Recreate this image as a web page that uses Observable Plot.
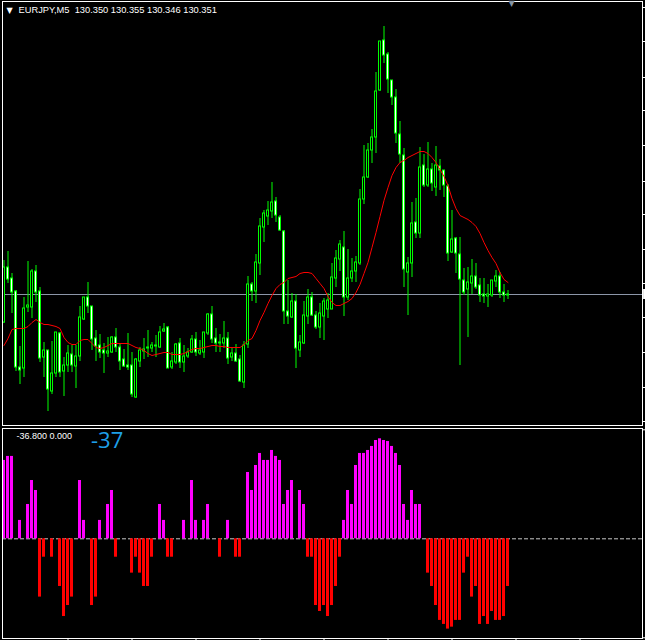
<!DOCTYPE html>
<html><head><meta charset="utf-8">
<script src="https://cdn.jsdelivr.net/npm/d3@7"></script>
<script src="https://cdn.jsdelivr.net/npm/@observablehq/plot@0.6"></script>
<style>
html,body{margin:0;padding:0;background:#000;}
#wrap{position:relative;width:645px;height:640px;background:#000;overflow:hidden;}
#wrap svg{position:absolute;left:0;}
</style></head><body><div id="wrap"></div>
<script>
const symbol = "EURJPY,M5";
const lastBar = [130.350, 130.355, 130.346, 130.351];

const open = [
130.323,130.378,130.367,130.354,130.278,130.277,130.338,130.338,130.374,130.354,
130.288,130.295,130.254,130.272,130.312,130.274,130.280,130.291,130.279,130.289,
130.326,130.348,130.339,130.307,130.300,130.295,130.292,130.293,130.308,130.298,
130.286,130.280,130.280,130.248,130.284,130.294,130.297,130.297,130.300,130.298,
130.314,130.318,130.278,130.283,130.302,130.283,130.289,130.293,130.306,130.292,
130.293,130.312,130.331,130.307,130.303,130.302,130.307,130.288,130.292,130.286,
130.263,130.301,130.361,130.354,130.382,130.418,130.429,130.434,130.444,130.428,
130.414,130.334,130.328,130.344,130.295,130.302,130.329,130.348,130.330,130.318,
130.329,130.336,130.336,130.367,130.386,130.398,130.348,130.367,130.374,130.382,
130.446,130.468,130.495,130.508,130.555,130.605,130.591,130.565,130.548,130.511,
130.490,130.373,130.382,130.423,130.412,130.480,130.460,130.476,130.458,130.479,
130.475,130.459,130.393,130.407,130.391,130.365,130.356,130.362,130.369,130.360,
130.351,130.349,130.350,130.364,130.369,130.353,130.350];
const high = [
130.385,130.394,130.372,130.355,130.299,130.348,130.384,130.376,130.380,130.358,
130.303,130.295,130.304,130.313,130.313,130.288,130.300,130.300,130.300,130.339,
130.348,130.363,130.339,130.315,130.311,130.302,130.308,130.309,130.317,130.302,
130.296,130.312,130.293,130.287,130.298,130.307,130.315,130.303,130.310,130.319,
130.322,130.319,130.293,130.302,130.307,130.300,130.297,130.310,130.313,130.305,
130.313,130.332,130.339,130.317,130.311,130.324,130.313,130.298,130.301,130.290,
130.304,130.369,130.363,130.391,130.427,130.435,130.444,130.463,130.448,130.430,
130.415,130.365,130.352,130.351,130.310,130.344,130.356,130.353,130.334,130.342,
130.347,130.352,130.382,130.395,130.405,130.414,130.396,130.387,130.389,130.456,
130.500,130.502,130.516,130.573,130.604,130.619,130.593,130.565,130.556,130.524,
130.497,130.388,130.443,130.447,130.498,130.491,130.503,130.482,130.499,130.486,
130.475,130.461,130.435,130.408,130.408,130.377,130.378,130.386,130.382,130.367,
130.367,130.361,130.365,130.375,130.373,130.361,130.355];
const low = [
130.322,130.362,130.332,130.274,130.261,130.268,130.333,130.327,130.343,130.283,
130.268,130.234,130.251,130.268,130.268,130.249,130.273,130.273,130.257,130.284,
130.325,130.332,130.295,130.284,130.287,130.272,130.288,130.292,130.293,130.275,
130.278,130.275,130.248,130.247,130.278,130.286,130.288,130.293,130.288,130.297,
130.313,130.277,130.276,130.281,130.277,130.273,130.287,130.292,130.289,130.290,
130.287,130.310,130.302,130.293,130.293,130.297,130.281,130.284,130.283,130.263,
130.257,130.297,130.344,130.342,130.370,130.403,130.420,130.427,130.423,130.414,
130.321,130.321,130.327,130.277,130.288,130.301,130.321,130.329,130.316,130.307,
130.305,130.327,130.336,130.358,130.374,130.329,130.345,130.363,130.363,130.380,
130.441,130.467,130.482,130.492,130.554,130.582,130.552,130.540,130.502,130.482,
130.358,130.330,130.368,130.407,130.407,130.458,130.458,130.454,130.449,130.455,
130.448,130.384,130.392,130.372,130.280,130.350,130.308,130.351,130.356,130.343,
130.342,130.338,130.348,130.358,130.347,130.343,130.346];
const close = [
130.378,130.366,130.353,130.278,130.275,130.337,130.340,130.374,130.353,130.287,
130.295,130.256,130.272,130.313,130.273,130.280,130.292,130.280,130.289,130.328,
130.348,130.339,130.306,130.299,130.293,130.292,130.294,130.308,130.298,130.284,
130.279,130.278,130.251,130.286,130.295,130.296,130.298,130.300,130.299,130.313,
130.316,130.277,130.284,130.301,130.283,130.289,130.293,130.306,130.293,130.295,
130.313,130.331,130.306,130.302,130.302,130.307,130.287,130.292,130.284,130.264,
130.300,130.361,130.354,130.383,130.419,130.432,130.435,130.443,130.430,130.415,
130.334,130.329,130.344,130.297,130.303,130.330,130.348,130.330,130.318,130.332,
130.344,130.345,130.368,130.387,130.401,130.348,130.367,130.374,130.383,130.446,
130.468,130.495,130.508,130.554,130.604,130.590,130.566,130.548,130.512,130.491,
130.376,130.382,130.422,130.412,130.478,130.460,130.476,130.462,130.480,130.475,
130.460,130.392,130.406,130.392,130.366,130.353,130.363,130.369,130.358,130.350,
130.349,130.351,130.365,130.369,130.353,130.350,130.351];
const ma = [
130.300,130.307,130.316,130.317,130.317,130.317,130.319,130.323,130.326,130.323,
130.321,130.321,130.320,130.319,130.317,130.308,130.303,130.301,130.301,130.305,
130.306,130.306,130.302,130.298,130.297,130.298,130.300,130.302,130.302,130.302,
130.302,130.302,130.300,130.298,130.297,130.295,130.292,130.290,130.291,130.292,
130.293,130.293,130.291,130.291,130.291,130.292,130.294,130.296,130.297,130.297,
130.298,130.299,130.300,130.300,130.299,130.299,130.298,130.298,130.298,130.298,
130.301,130.305,130.307,130.315,130.325,130.333,130.342,130.350,130.357,130.361,
130.363,130.367,130.368,130.369,130.372,130.373,130.373,130.372,130.367,130.362,
130.357,130.349,130.343,130.340,130.340,130.342,130.344,130.347,130.353,130.361,
130.372,130.383,130.398,130.413,130.429,130.445,130.458,130.470,130.478,130.483,
130.485,130.488,130.490,130.492,130.494,130.494,130.492,130.488,130.483,130.476,
130.469,130.460,130.447,130.437,130.430,130.428,130.426,130.423,130.419,130.412,
130.403,130.395,130.388,130.382,130.373,130.366,130.363];
const hist = [
60.5,63.6,63.6,0,14.2,0,26.5,45.0,37.3,-45.0,
-14.2,0,-14.2,0,-36.8,-60.0,-51.5,-45.0,0,45.0,
14.2,0,-51.5,-45.0,14.2,0,26.5,37.3,-14.2,0,
0,0,-26.5,-14.2,-26.5,-36.8,-36.8,-14.2,0,26.5,
14.2,-14.2,-14.2,0,0,14.2,0,45.0,14.2,0,
14.2,26.5,0,0,-14.2,0,14.2,0,-14.2,-14.2,
0,51.2,37.3,56.6,65.9,60.5,60.5,68.2,63.6,60.5,
26.5,37.3,45.0,0,37.3,26.5,-14.2,-14.2,-51.5,-56.1,
-51.5,-60.0,-51.5,-36.8,-14.2,14.2,37.3,26.5,56.6,65.9,
65.9,68.2,71.3,75.9,77.2,75.9,75.1,71.3,65.9,56.6,
26.5,14.2,37.3,26.5,26.5,0,-26.5,-36.8,-51.5,-63.0,
-66.1,-69.7,-68.2,-63.0,-63.0,-26.5,-14.2,-45.0,-36.8,-66.1,
-60.0,-66.1,-56.1,-63.0,-63.0,-60.0,-36.8];
const priceTicks = [130.638,130.604,130.568,130.535,130.500,130.464,130.431,130.396,130.362,130.328,130.293,130.258,130.224];
const histTicks = [84.15, -76.4];
const timeTicks = [16,32,48,64,80,96,112,128,144];
const histLabel = "-36.800 0.000";
const histValueLabel = "-37";

const candles = open.map((o, i) => ({i, o, h: high[i], l: low[i], c: close[i]}));
const bars = hist.map((v, i) => ({i, v})).filter(d => d.v !== 0);
const maData = ma.map((v, i) => ({i, v}));
const bidMarker = [{x1: 159.9, x2: 160.5, y1: lastBar[3] + 0.005, y2: lastBar[3] - 0.005}];

const xOpt = {type: "linear", domain: [0, 126], range: [3.5, 507.5], axis: null};
const wrap = document.getElementById("wrap");

const topChart = Plot.plot({
  width: 645, height: 427,
  marginLeft: 2, marginTop: 1, marginRight: 3, marginBottom: 2,
  style: {background: "#000", overflow: "visible"},
  x: xOpt,
  y: {type: "linear", domain: [130.645, 130.218], range: [0, 427], axis: null},
  marks: [
    Plot.ruleY([lastBar[3]], {stroke: "#8c96a8"}),
    Plot.ruleX(candles, {x: "i", y1: "l", y2: "h", stroke: "#00ff00"}),
    Plot.rect(candles, {x1: d => d.i - 0.375, x2: d => d.i + 0.375, y1: "o", y2: "c", fill: "#00ff00", insetTop: -0.5, insetBottom: -0.5}),
    Plot.rect(candles, {x1: d => d.i - 0.125, x2: d => d.i + 0.125, y1: "o", y2: "c", fill: d => d.c > d.o ? "#000" : "#fff", insetTop: 0.5, insetBottom: 0.5}),
    Plot.line(maData, {x: "i", y: "v", stroke: "#ff0000", strokeWidth: 1}),
    Plot.frame({stroke: "#fff"}),
    Plot.axisY({anchor: "right", ticks: priceTicks, tickSize: 3, tickFormat: () => "", stroke: "#fff", label: null}),
    Plot.rect(bidMarker, {x1: "x1", x2: "x2", y1: "y1", y2: "y2", fill: "#fff"}),
    Plot.text(["\u25BC"], {frameAnchor: "top-left", dx: 4, dy: 9, textAnchor: "start", lineAnchor: "middle", fill: "#fff", fontSize: 8, fontFamily: "DejaVu Sans"}),
    Plot.text([symbol + "\u00a0 " + lastBar.map(v => v.toFixed(3)).join(" ")], {frameAnchor: "top-left", dx: 16, dy: 9, textAnchor: "start", lineAnchor: "middle", fill: "#fff", fontSize: 9.3, fontFamily: "Liberation Sans"}),
    Plot.text(["\u25BC"], {frameAnchor: "top-left", dx: 506, dy: 2, textAnchor: "start", lineAnchor: "middle", fill: "#8593a3", fontSize: 8, fontFamily: "DejaVu Sans"})
  ]
});
topChart.style.top = "0px";
wrap.appendChild(topChart);

const botChart = Plot.plot({
  width: 645, height: 213,
  marginLeft: 2, marginTop: 1, marginRight: 3, marginBottom: 2,
  style: {background: "#000", overflow: "visible"},
  x: xOpt,
  y: {type: "linear", domain: [85.93, -78.51], range: [0, 213], axis: null},
  marks: [
    Plot.ruleY([0], {stroke: "#c8c8c8", strokeDasharray: "4,2"}),
    Plot.rect(bars, {x1: d => d.i - 0.375, x2: d => d.i + 0.375, y1: 0, y2: "v", fill: d => d.v > 0 ? "#ff00ff" : "#ff0000"}),
    Plot.frame({stroke: "#fff"}),
    Plot.axisX({anchor: "bottom", ticks: timeTicks, tickSize: 2, tickFormat: () => "", stroke: "#fff", label: null}),
    Plot.axisY({anchor: "right", ticks: histTicks, tickSize: 3, tickFormat: () => "", stroke: "#fff", label: null}),
    Plot.text([histLabel], {frameAnchor: "top-left", dx: 14, dy: 8, textAnchor: "start", lineAnchor: "middle", fill: "#fff", fontSize: 9, fontFamily: "Liberation Sans"}),
    Plot.text([histValueLabel], {frameAnchor: "top-left", dx: 88.5, dy: 12, textAnchor: "start", lineAnchor: "middle", fill: "#1e9fe8", fontSize: 22, fontFamily: "Open Sans"})
  ]
});
botChart.style.top = "427px";
wrap.appendChild(botChart);
</script>
</body></html>
